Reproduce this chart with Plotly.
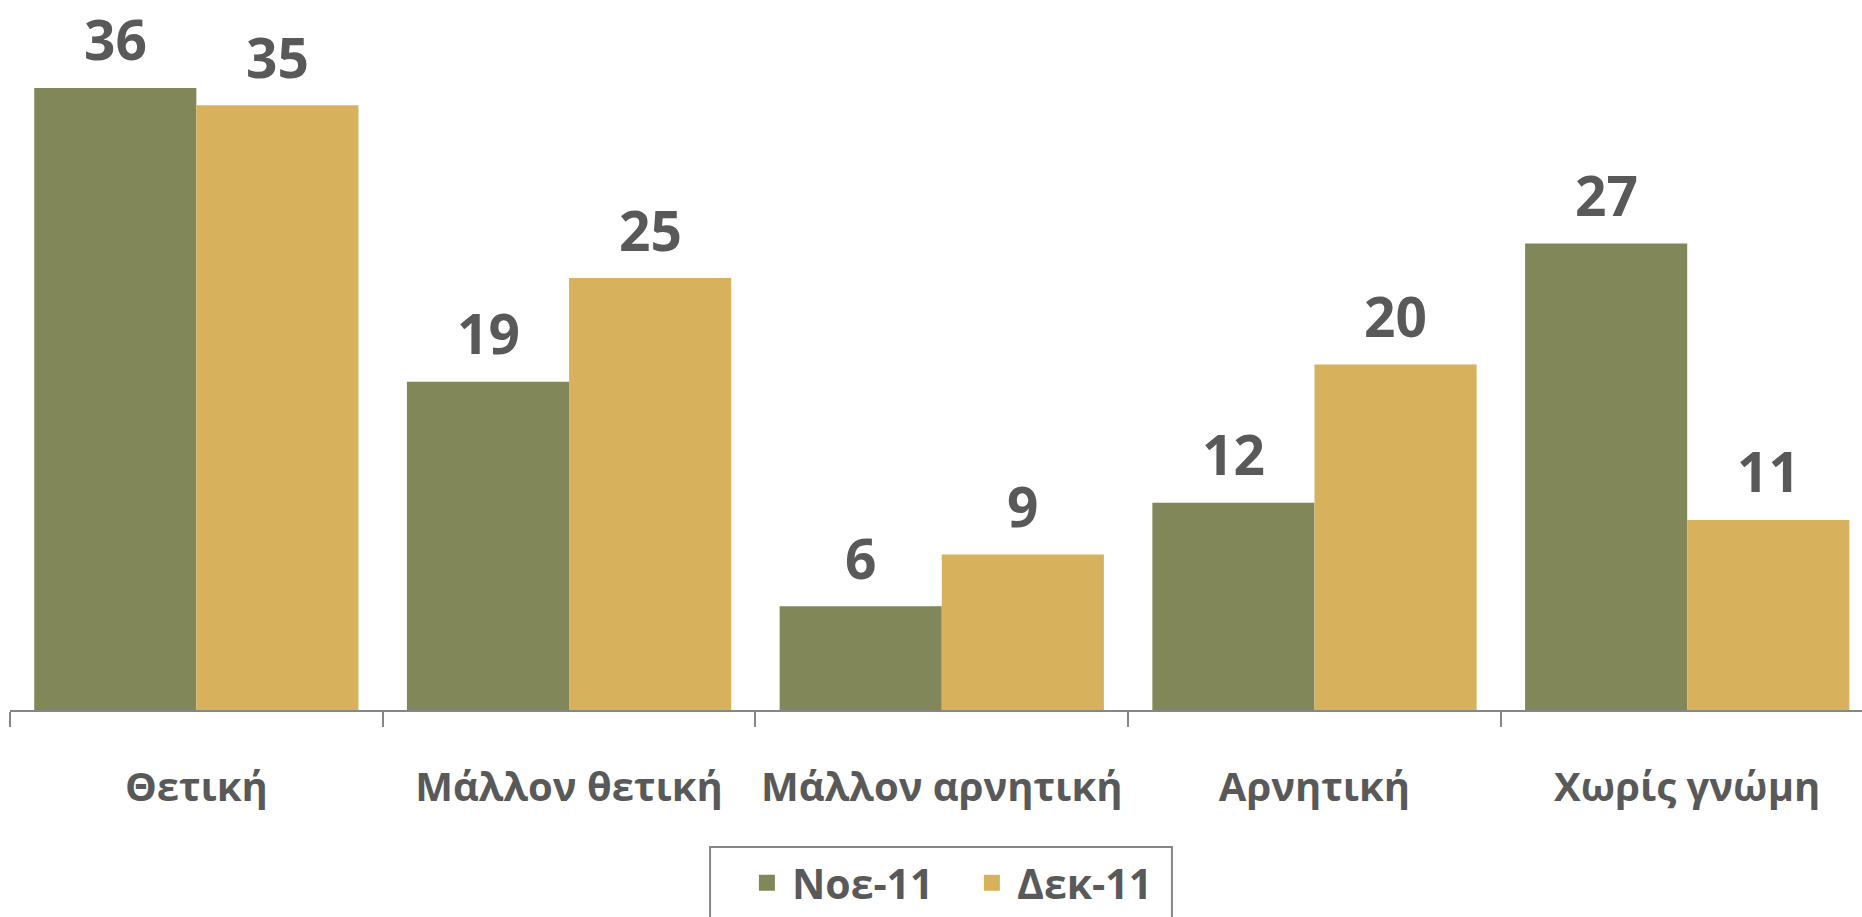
import plotly.graph_objects as go

categories = ["Θετική", "Μάλλον θετική", "Μάλλον αρνητική", "Αρνητική", "Χωρίς γνώμη"]
series_names = ["Νοε-11", "Δεκ-11"]
nov_values = [36, 19, 6, 12, 27]
dec_values = [35, 25, 9, 20, 11]

colors = ["#82875A", "#D8B15C"]
text_color = "#595959"
axis_color = "#868686"
font_family = "Open Sans"

fig = go.Figure()
all_series = [nov_values, dec_values]
for name, vals, col in zip(series_names, all_series, colors):
    fig.add_trace(go.Bar(
        x=categories, y=vals, name=name, showlegend=False,
        marker=dict(color=col, line=dict(width=0)),
        hovertemplate="%{x}: %{y}<extra>" + name + "</extra>",
    ))
# legend entries with larger square swatches
for name, col in zip(series_names, colors):
    fig.add_trace(go.Scatter(
        x=[None], y=[None], mode="markers", name=name,
        marker=dict(symbol="square", size=27, color=col),
        hoverinfo="skip",
    ))

# data labels above each bar
offsets = [-81, 81]
for vals, dx in zip(all_series, offsets):
    for cat, v in zip(categories, vals):
        fig.add_annotation(
            x=cat, y=v, text=str(v), showarrow=False,
            xshift=dx, yanchor="middle", yshift=49,
            font=dict(family=font_family, size=55, color=text_color, weight="bold"),
        )

# legend frame
fig.add_shape(type="rect", xref="paper", yref="paper",
              x0=0.378, x1=0.6274, y0=-0.33, y1=-0.193,
              line=dict(color=axis_color, width=2), fillcolor="rgba(0,0,0,0)")

fig.update_layout(
    width=1862, height=917,
    margin=dict(l=10, r=0, t=0, b=207, pad=0),
    paper_bgcolor="white", plot_bgcolor="white",
    barmode="group", bargap=0.13, bargroupgap=0,
    font=dict(family=font_family, color=text_color, size=40, weight="bold"),
    legend=dict(
        orientation="h", x=0.3952, xanchor="left", y=-0.2437, yanchor="middle",
        borderwidth=0, bgcolor="rgba(0,0,0,0)",
        font=dict(family=font_family, size=41, color=text_color, weight="bold"),
        itemwidth=40, entrywidth=170, itemsizing="trace",
    ),
    showlegend=True,
)
fig.update_xaxes(
    range=[-0.5, 4.469], showline=True, linecolor=axis_color, linewidth=2,
    ticks="outside", tickson="boundaries", ticklen=15, tickcolor=axis_color, tickwidth=2,
    tickfont=dict(family=font_family, size=40, color=text_color, weight="bold"),
    ticklabelstandoff=41, showgrid=False, zeroline=False,
)
fig.update_yaxes(range=[0, 41.09], visible=False, showgrid=False, zeroline=False)

fig.write_html("out.html", config={"displayModeBar": False},
               post_script="document.body.style.margin='0';")
